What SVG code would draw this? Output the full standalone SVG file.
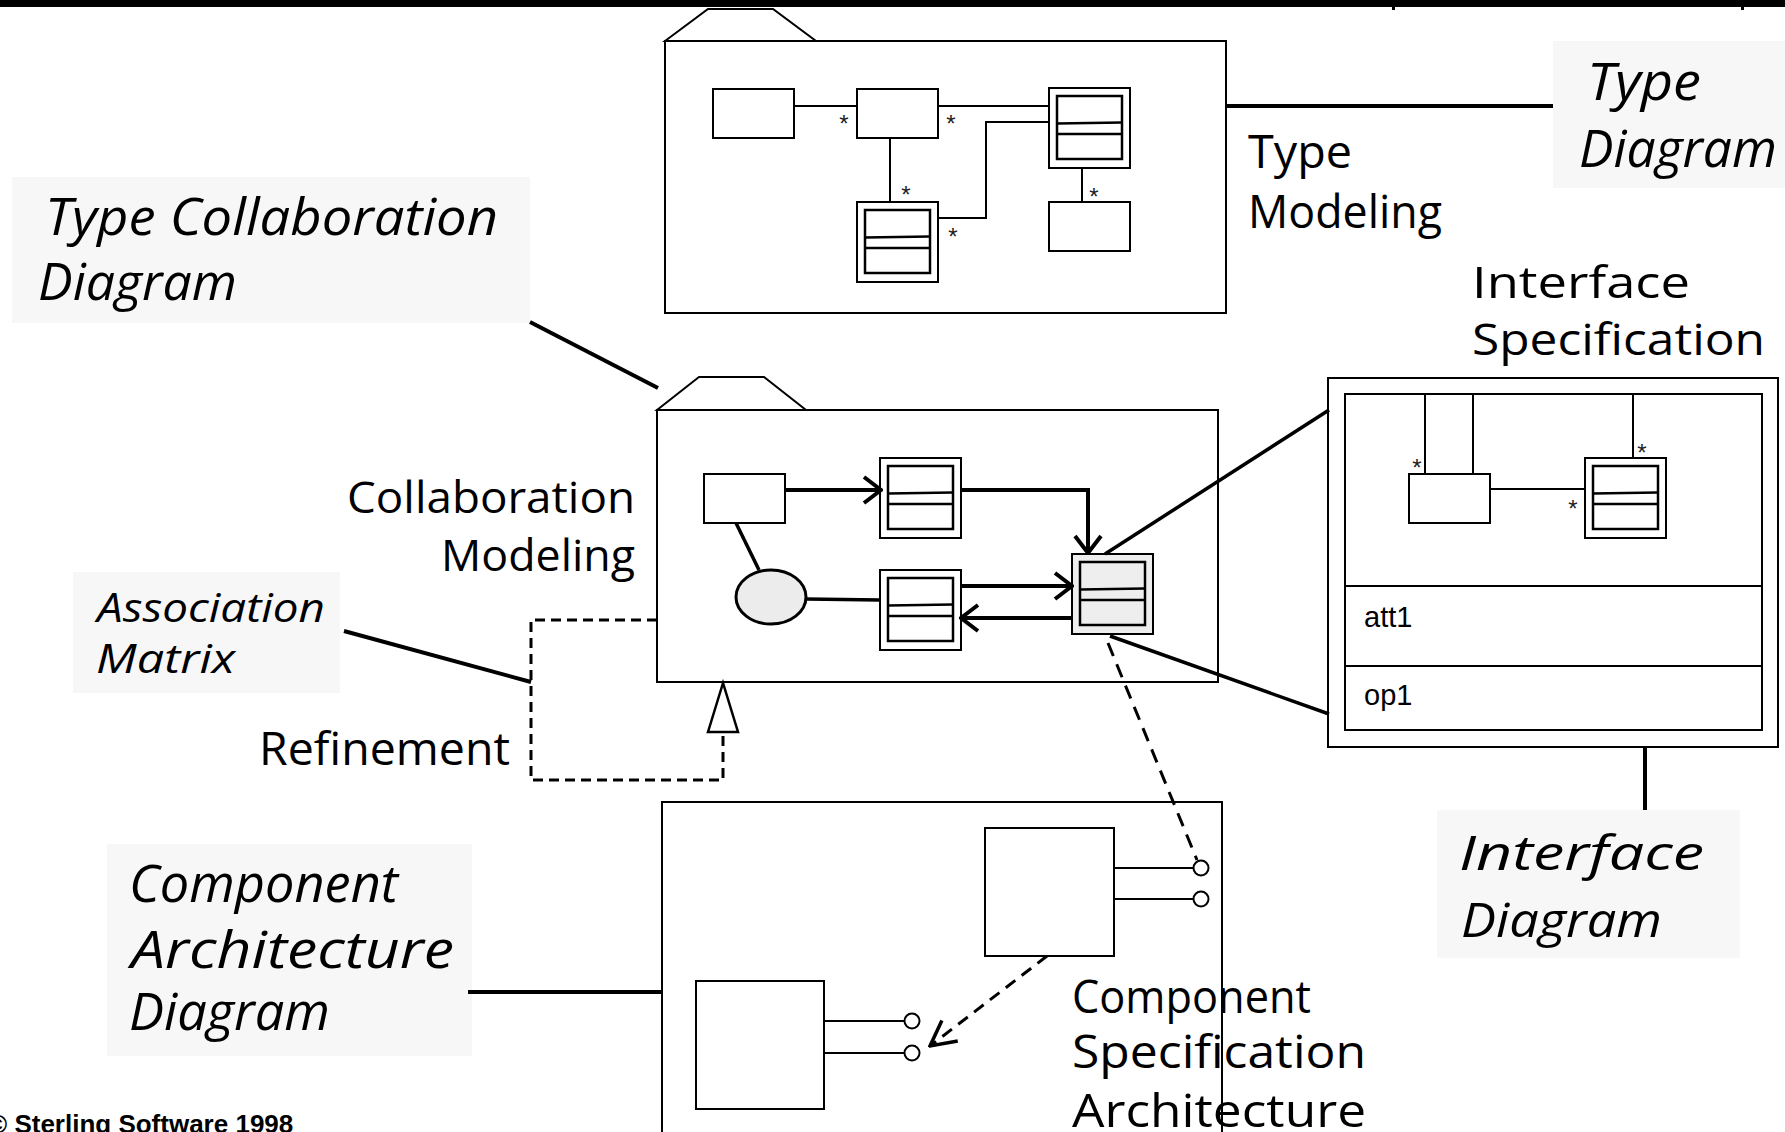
<svg xmlns="http://www.w3.org/2000/svg" xmlns:xlink="http://www.w3.org/1999/xlink" width="1785" height="1132" viewBox="0 0 1785 1132">
<style>
.pkg{fill:#fff;stroke:#000;stroke-width:2}
.box{fill:#fff;stroke:#000;stroke-width:2}
.frame{fill:none;stroke:#000;stroke-width:2}
.ln{fill:none;stroke:#000;stroke-width:2}
.mid{fill:none;stroke:#000;stroke-width:3.5}
.thick{fill:none;stroke:#000;stroke-width:4}
.dash{fill:none;stroke:#000;stroke-width:3;stroke-dasharray:12 8}
.lblbg{fill:#f7f7f7}
.hand{font-family:"Open Sans","Noto Sans",sans-serif;fill:#000}
.it{font-style:italic}
.star{font-family:"Liberation Sans",Arial,sans-serif;font-size:24px;fill:#222;text-anchor:middle}
.sans{font-family:"Liberation Sans",Arial,sans-serif;fill:#000}
</style>
<defs>
  <!-- class symbol: outer frame, inner frame, two compartment lines -->
  <g id="cls">
    <rect x="0" y="0" width="81" height="80" stroke="#000" stroke-width="2"/>
    <rect x="8" y="8" width="65" height="63" stroke="#000" stroke-width="2.5"/>
    <path d="M8,35.5 L73,34.5 M8,46 H73" stroke="#000" stroke-width="2.5" fill="none"/>
  </g>
  <marker id="open" viewBox="0 0 21 30" refX="19" refY="15" markerWidth="21" markerHeight="30" markerUnits="userSpaceOnUse" orient="auto">
    <path d="M2,2 L19,15 L2,28" fill="none" stroke="#000" stroke-width="4"/>
  </marker>
  <marker id="open2" viewBox="0 0 29 30" refX="27" refY="15" markerWidth="29" markerHeight="30" markerUnits="userSpaceOnUse" orient="auto">
    <path d="M2,2 L27,15 L2,28" fill="none" stroke="#000" stroke-width="3.5"/>
  </marker>
</defs>

<rect width="1785" height="1132" fill="#fff"/>

<!-- header bar -->
<g id="header">
  <rect x="0" y="0" width="1785" height="7" fill="#000"/>
  <rect x="1392" y="7" width="3" height="3" fill="#000"/>
  <rect x="1741" y="7" width="3" height="3" fill="#000"/>
</g>

<!-- labels with shaded backgrounds -->
<g id="lbl-type-collab">
  <rect class="lblbg" x="12" y="177" width="518" height="146"/>
  <text class="hand it" x="45" y="235" font-size="52" textLength="453" lengthAdjust="spacingAndGlyphs">Type Collaboration</text>
  <text class="hand it" x="38" y="300" font-size="52" textLength="199" lengthAdjust="spacingAndGlyphs">Diagram</text>
</g>
<g id="lbl-type-diagram">
  <rect class="lblbg" x="1553" y="41" width="232" height="147"/>
  <text class="hand it" x="1587" y="100" font-size="51" textLength="114" lengthAdjust="spacingAndGlyphs">Type</text>
  <text class="hand it" x="1579" y="167" font-size="51" textLength="198" lengthAdjust="spacingAndGlyphs">Diagram</text>
</g>
<g id="lbl-assoc">
  <rect class="lblbg" x="73" y="572" width="267" height="121"/>
  <text class="hand it" x="97" y="622" font-size="41" textLength="228" lengthAdjust="spacingAndGlyphs">Association</text>
  <text class="hand it" x="96" y="673" font-size="41" textLength="139" lengthAdjust="spacingAndGlyphs">Matrix</text>
</g>
<g id="lbl-iface-diagram">
  <rect class="lblbg" x="1437" y="810" width="303" height="148"/>
  <text class="hand it" x="1459" y="870" font-size="47" textLength="245" lengthAdjust="spacingAndGlyphs">Interface</text>
  <text class="hand it" x="1461" y="937" font-size="47" textLength="201" lengthAdjust="spacingAndGlyphs">Diagram</text>
</g>
<g id="lbl-comp-arch">
  <rect class="lblbg" x="107" y="844" width="365" height="212"/>
  <text class="hand it" x="129" y="902" font-size="51" textLength="269" lengthAdjust="spacingAndGlyphs">Component</text>
  <text class="hand it" x="131" y="968" font-size="51" textLength="323" lengthAdjust="spacingAndGlyphs">Architecture</text>
  <text class="hand it" x="129" y="1030" font-size="51" textLength="201" lengthAdjust="spacingAndGlyphs">Diagram</text>
</g>

<!-- plain captions -->
<g id="cap-type-modeling">
  <text class="hand" x="1248" y="168" font-size="45" textLength="104" lengthAdjust="spacingAndGlyphs">Type</text>
  <text class="hand" x="1248" y="228" font-size="45" textLength="194" lengthAdjust="spacingAndGlyphs">Modeling</text>
</g>
<g id="cap-iface-spec">
  <text class="hand" x="1472" y="298" font-size="44" textLength="218" lengthAdjust="spacingAndGlyphs">Interface</text>
  <text class="hand" x="1472" y="355" font-size="44" textLength="293" lengthAdjust="spacingAndGlyphs">Specification</text>
</g>
<g id="cap-collab">
  <text class="hand" x="347" y="513" font-size="44" textLength="288" lengthAdjust="spacingAndGlyphs">Collaboration</text>
  <text class="hand" x="441" y="571" font-size="44" textLength="194" lengthAdjust="spacingAndGlyphs">Modeling</text>
</g>
<g id="cap-refinement">
  <text class="hand" x="259" y="765" font-size="45" textLength="251" lengthAdjust="spacingAndGlyphs">Refinement</text>
</g>
<g id="cap-comp-spec">
  <text class="hand" x="1072" y="1013" font-size="45" textLength="239" lengthAdjust="spacingAndGlyphs">Component</text>
  <text class="hand" x="1072" y="1068" font-size="45" textLength="294" lengthAdjust="spacingAndGlyphs">Specification</text>
  <text class="hand" x="1072" y="1127" font-size="45" textLength="294" lengthAdjust="spacingAndGlyphs">Architecture</text>
</g>
<g id="copyright">
  <text class="sans" x="-12" y="1133" font-size="26" font-weight="bold">© Sterling Software 1998</text>
</g>

<!-- Type model package -->
<g id="pkg-type">
  <polygon class="pkg" points="665,41 708,9 773,9 816,41"/>
  <rect class="frame" x="665" y="41" width="561" height="272"/>
</g>
<g id="t-rect1"><rect class="box" x="713" y="89" width="81" height="49"/></g>
<g id="t-rect2"><rect class="box" x="857" y="89" width="81" height="49"/></g>
<g id="t-class3"><use xlink:href="#cls" href="#cls" x="1049" y="88" fill="#fff"/></g>
<g id="t-class4"><use xlink:href="#cls" href="#cls" x="857" y="202" fill="#fff"/></g>
<g id="t-rect5"><rect class="box" x="1049" y="202" width="81" height="49"/></g>

<!-- Collaboration package -->
<g id="pkg-collab">
  <polygon class="pkg" points="657,410 699,377 764,377 806,410"/>
  <rect class="frame" x="657" y="410" width="561" height="272"/>
</g>
<g id="c-rectA"><rect class="box" x="704" y="474" width="81" height="49"/></g>
<g id="c-classB"><use xlink:href="#cls" href="#cls" x="880" y="458" fill="#fff"/></g>
<g id="c-classE"><use xlink:href="#cls" href="#cls" x="880" y="570" fill="#fff"/></g>
<g id="c-classC"><use xlink:href="#cls" href="#cls" x="1072" y="554" fill="#eeeeee"/></g>
<g id="c-ellipse"><ellipse cx="771" cy="597" rx="35" ry="27" fill="#ececec" stroke="#000" stroke-width="3"/></g>

<!-- Interface specification box -->
<g id="iface-spec">
  <rect class="box" x="1328" y="378" width="450" height="369"/>
  <rect class="frame" x="1345" y="394" width="417" height="336"/>
  <path class="ln" d="M1345,586 H1762 M1345,666 H1762"/>
  <text class="sans" x="1364" y="627" font-size="29">att1</text>
  <text class="sans" x="1364" y="705" font-size="29">op1</text>
</g>
<g id="i-rect"><rect class="box" x="1409" y="474" width="81" height="49"/></g>
<g id="i-class"><use xlink:href="#cls" href="#cls" x="1585" y="458" fill="#fff"/></g>

<!-- Component architecture package -->
<g id="comp-right">
  <rect class="box" x="985" y="828" width="129" height="128"/>
  <path class="ln" d="M1114,868 H1193 M1114,899 H1193"/>
  <circle cx="1201" cy="868" r="7.5" fill="#fff" stroke="#000" stroke-width="2"/>
  <circle cx="1201" cy="899" r="7.5" fill="#fff" stroke="#000" stroke-width="2"/>
</g>
<g id="comp-left">
  <rect class="box" x="696" y="981" width="128" height="128"/>
  <path class="ln" d="M824,1021 H904 M824,1053 H904"/>
  <circle cx="912" cy="1021" r="7.5" fill="#fff" stroke="#000" stroke-width="2"/>
  <circle cx="912" cy="1053" r="7.5" fill="#fff" stroke="#000" stroke-width="2"/>
</g>
<g id="pkg-comp">
  <rect class="frame" x="662" y="802" width="560" height="345"/>
</g>

<!-- multiplicities -->
<g id="multiplicities">
  <text class="star" x="844" y="132">*</text>
  <text class="star" x="951" y="132">*</text>
  <text class="star" x="906" y="203">*</text>
  <text class="star" x="953" y="245">*</text>
  <text class="star" x="1094" y="205">*</text>
  <text class="star" x="1417" y="476">*</text>
  <text class="star" x="1573" y="517">*</text>
  <text class="star" x="1642" y="461">*</text>
</g>

<!-- connectors -->
<g id="connectors">
  <!-- type model associations -->
  <path class="ln" d="M794,106 H857"/>
  <path class="ln" d="M938,106 H1049"/>
  <path class="ln" d="M1049,122 H986 V218 H938"/>
  <path class="ln" d="M890,138 V202"/>
  <path class="ln" d="M1082,168 V202"/>
  <!-- collaboration links -->
  <path class="thick" d="M785,490 H881" marker-end="url(#open)"/>
  <path class="thick" d="M961,490 H1088 V553" marker-end="url(#open)"/>
  <path class="mid" d="M736,523 L759,570"/>
  <path class="mid" d="M806,599 L880,600"/>
  <path class="thick" d="M961,586 H1072" marker-end="url(#open)"/>
  <path class="thick" d="M1072,618 H961" marker-end="url(#open)"/>
  <!-- interface internal links -->
  <path class="ln" d="M1425,394 V474 M1473,394 V474 M1633,394 V458 M1490,489 H1585"/>
  <!-- label leaders -->
  <path class="thick" d="M530,322 L658,388"/>
  <path class="thick" d="M1226,106 H1553"/>
  <path class="thick" d="M344,631 L531,682"/>
  <path class="mid" d="M1105,554 L1329,410"/>
  <path class="mid" d="M1110,636 L1329,714"/>
  <path class="thick" d="M1645,747 V810"/>
  <path class="thick" d="M468,992 H662"/>
  <!-- refinement -->
  <path class="dash" d="M657,620 H531 V780 H723 V732" style="stroke-dasharray:10 6"/>
  <polygon points="723,683 708,732 738,732" fill="#fff" stroke="#000" stroke-width="2.5"/>
  <!-- dependencies -->
  <path class="dash" d="M1108,643 L1197,860" style="stroke-dasharray:14 9"/>
  <path class="dash" d="M1047,956 L930,1046" marker-end="url(#open2)"/>
</g>
</svg>
